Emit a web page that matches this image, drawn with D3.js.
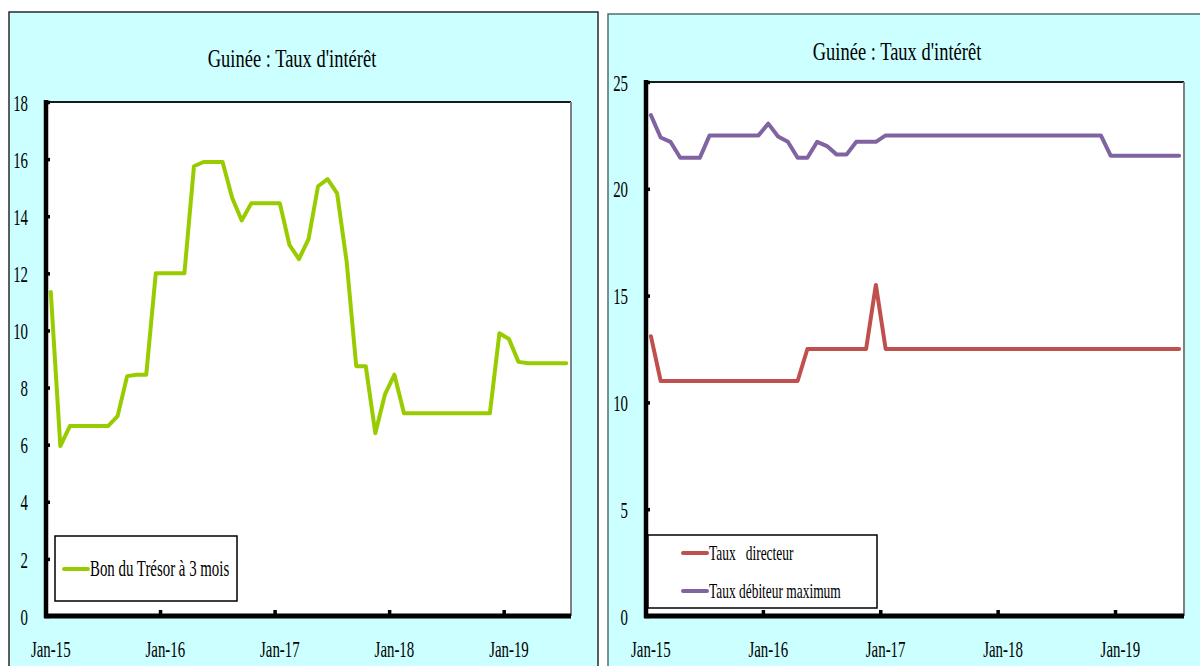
<!DOCTYPE html>
<html>
<head>
<meta charset="utf-8">
<script src="https://cdn.jsdelivr.net/npm/d3@7"></script>
<style>
  html, body { margin: 0; padding: 0; background: #ffffff; }
  svg text { font-family: "Liberation Serif", "Times New Roman", serif; fill: #000; }
</style>
</head>
<body>
<svg id="chart" width="1200" height="666"></svg>
<script>
// Monthly categories Jan-15 .. Jul-19
const monthNames = ["Jan","Feb","Mar","Apr","May","Jun","Jul","Aug","Sep","Oct","Nov","Dec"];
const years = ["15","16","17","18","19"];
const categories = [];
years.forEach(yy => monthNames.forEach(m => categories.push(m + "-" + yy)));
categories.splice(55); // series end in Jul-19

const xTickLabels = ["Jan-15","Jan-16","Jan-17","Jan-18","Jan-19"];

const title = "Guinée : Taux d'intérêt";

// Left chart: 3-month Treasury bill rate
const bonTresor = [
  11.35, 5.95, 6.65, 6.65, 6.65, 6.65, 6.65, 7.0, 8.4, 8.45, 8.45, 12.0,
  12.0, 12.0, 12.0, 15.75, 15.9, 15.9, 15.9, 14.65, 13.85, 14.45, 14.45, 14.45,
  14.45, 13.0, 12.5, 13.2, 15.05, 15.3, 14.8, 12.4, 8.75, 8.75, 6.4, 7.75,
  8.45, 7.1, 7.1, 7.1, 7.1, 7.1, 7.1, 7.1, 7.1, 7.1, 7.1, 9.9,
  9.7, 8.9, 8.85, 8.85, 8.85, 8.85, 8.85
];
const leftYTicks = [0, 2, 4, 6, 8, 10, 12, 14, 16, 18];

// Right chart: policy rate and maximum lending rate
const tauxDirecteur = [
  13.1, 11.0, 11.0, 11.0, 11.0, 11.0, 11.0, 11.0, 11.0, 11.0, 11.0, 11.0,
  11.0, 11.0, 11.0, 11.0, 12.5, 12.5, 12.5, 12.5, 12.5, 12.5, 12.5, 15.5,
  12.5, 12.5, 12.5, 12.5, 12.5, 12.5, 12.5, 12.5, 12.5, 12.5, 12.5, 12.5,
  12.5, 12.5, 12.5, 12.5, 12.5, 12.5, 12.5, 12.5, 12.5, 12.5, 12.5, 12.5,
  12.5, 12.5, 12.5, 12.5, 12.5, 12.5, 12.5
];
const tauxDebiteurMax = [
  23.45, 22.4, 22.2, 21.45, 21.45, 21.45, 22.5, 22.5, 22.5, 22.5, 22.5, 22.5,
  23.05, 22.45, 22.2, 21.45, 21.45, 22.2, 22.0, 21.6, 21.6, 22.2, 22.2, 22.2,
  22.5, 22.5, 22.5, 22.5, 22.5, 22.5, 22.5, 22.5, 22.5, 22.5, 22.5, 22.5,
  22.5, 22.5, 22.5, 22.5, 22.5, 22.5, 22.5, 22.5, 22.5, 22.5, 22.5, 21.55,
  21.55, 21.55, 21.55, 21.55, 21.55, 21.55, 21.55
];
const rightYTicks = [0, 5, 10, 15, 20, 25];

const svg = d3.select("#chart");
const FS = 0.62;       // horizontal squeeze of the serif tick labels
const TICK_FONT = 24;

// Panel backgrounds
svg.append("rect").attr("x", 9).attr("y", 12).attr("width", 589).attr("height", 680)
  .attr("fill", "#ccffff").attr("stroke", "#2a2a2a").attr("stroke-width", 1.5);
svg.append("rect").attr("x", 608).attr("y", 14).attr("width", 610).attr("height", 680)
  .attr("fill", "#ccffff").attr("stroke", "#4f6f6f").attr("stroke-width", 1.5);

function squeezedText(g, x, y, txt, size, sx, anchor) {
  return g.append("text")
    .attr("transform", `translate(${x},${y}) scale(${sx},1)`)
    .attr("text-anchor", anchor || "middle")
    .attr("font-size", size)
    .style("white-space", "pre")
    .text(txt);
}

function drawPanel(cfg) {
  const g = svg.append("g");
  const x = d3.scaleBand().domain(categories).range([cfg.left, cfg.right]).padding(0);
  const y = d3.scaleLinear().domain([0, cfg.yMax]).range([cfg.bottom, cfg.top]);
  const bw = x.bandwidth();

  // plot area
  g.append("rect").attr("x", cfg.left).attr("y", cfg.top)
    .attr("width", cfg.right - cfg.left).attr("height", cfg.bottom - cfg.top)
    .attr("fill", "#ffffff");
  g.append("line").attr("x1", cfg.left).attr("x2", cfg.right).attr("y1", cfg.top).attr("y2", cfg.top)
    .attr("stroke", "#1a1a1a").attr("stroke-width", 2);
  g.append("line").attr("x1", cfg.right).attr("x2", cfg.right).attr("y1", cfg.top).attr("y2", cfg.bottom)
    .attr("stroke", "#808080").attr("stroke-width", 2);

  // title
  squeezedText(g, cfg.titleX, cfg.titleY, title, 25, 0.74);

  // y axis labels and inward tick marks
  const yAxis = d3.axisLeft(y).tickValues(cfg.yTicks).tickSizeInner(-4).tickSizeOuter(0).tickPadding(18);
  const ya = g.append("g").attr("transform", `translate(${cfg.left},0)`).call(yAxis);
  ya.select(".domain").remove();
  ya.selectAll(".tick line").attr("stroke", "#000").attr("stroke-width", 3.5);
  ya.selectAll(".tick text")
    .attr("font-family", "Liberation Serif")
    .attr("font-size", TICK_FONT)
    .attr("fill", "#000")
    .attr("dy", "0.34em")
    .attr("x", -18 / FS)
    .attr("transform", `scale(${FS},1)`);

  // x axis labels at category centres, tick marks at category boundaries
  const xAxis = d3.axisBottom(x).tickValues(xTickLabels).tickSize(0);
  const xa = g.append("g").attr("transform", `translate(0,${cfg.bottom})`).call(xAxis);
  xa.select(".domain").remove();
  xa.selectAll(".tick text")
    .attr("font-family", "Liberation Serif")
    .attr("font-size", TICK_FONT)
    .attr("fill", "#000")
    .attr("transform", `scale(${FS},1)`)
    .attr("x", 0)
    .attr("y", 24);
  g.selectAll(".xtick").data(xTickLabels.slice(1)).join("line")
    .attr("x1", d => x(d)).attr("x2", d => x(d))
    .attr("y1", cfg.bottom).attr("y2", cfg.bottom - 6)
    .attr("stroke", "#000").attr("stroke-width", 3.5);

  // series
  const line = d3.line().x((d, i) => x(categories[i]) + bw / 2).y(d => y(d));
  cfg.series.forEach(s => {
    g.append("path").datum(s.values)
      .attr("d", line)
      .attr("fill", "none")
      .attr("stroke", s.color)
      .attr("stroke-width", 4)
      .attr("stroke-linejoin", "round")
      .attr("stroke-linecap", "round");
  });

  // axis lines
  g.append("line").attr("x1", cfg.left).attr("x2", cfg.left).attr("y1", cfg.top - 2).attr("y2", cfg.bottom + 2)
    .attr("stroke", "#000").attr("stroke-width", 4.5);
  g.append("line").attr("x1", cfg.left - 2).attr("x2", cfg.right).attr("y1", cfg.bottom).attr("y2", cfg.bottom)
    .attr("stroke", "#000").attr("stroke-width", 5);

  // legend
  const L = cfg.legend;
  g.append("rect").attr("x", L.x).attr("y", L.y).attr("width", L.w).attr("height", L.h)
    .attr("fill", "#ffffff").attr("stroke", "#000").attr("stroke-width", 1.5);
  cfg.series.forEach((s, i) => {
    const ly = L.rowY[i];
    g.append("line").attr("x1", L.lineX0).attr("x2", L.lineX1).attr("y1", ly).attr("y2", ly)
      .attr("stroke", s.color).attr("stroke-width", 4).attr("stroke-linecap", "round");
    squeezedText(g, L.lineX1 + 2, ly + 7, s.name, L.fontSize, L.sx, "start");
  });
}

drawPanel({
  left: 46, right: 571, top: 102, bottom: 616, yMax: 18, yTicks: leftYTicks,
  titleX: 292, titleY: 67,
  series: [{ name: "Bon du Trésor à 3 mois", values: bonTresor, color: "#99cc00" }],
  legend: { x: 55, y: 536, w: 182, h: 65, rowY: [569], lineX0: 64, lineX1: 88, fontSize: 24, sx: 0.62 }
});

drawPanel({
  left: 646, right: 1184, top: 82, bottom: 616, yMax: 25, yTicks: rightYTicks,
  titleX: 897, titleY: 60,
  series: [
    { name: "Taux   directeur", values: tauxDirecteur, color: "#c0504d" },
    { name: "Taux débiteur maximum", values: tauxDebiteurMax, color: "#8064a2" }
  ],
  legend: { x: 648, y: 535, w: 229, h: 73, rowY: [553, 591], lineX0: 683, lineX1: 707, fontSize: 21, sx: 0.64 }
});
</script>
</body>
</html>
